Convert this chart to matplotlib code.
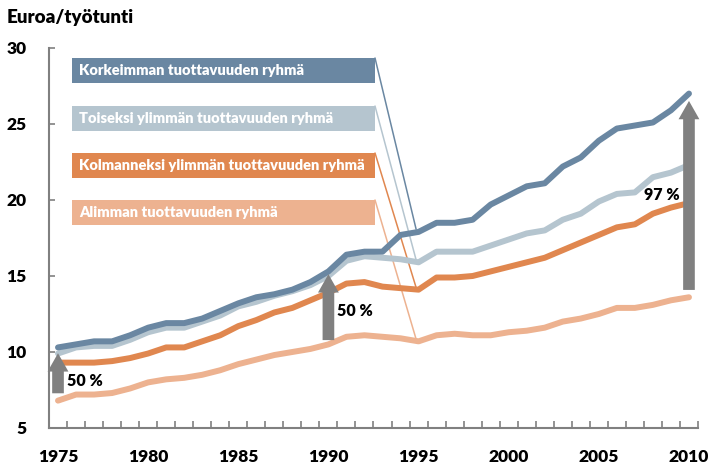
import matplotlib
matplotlib.use("Agg")
import matplotlib.pyplot as plt
from matplotlib.ticker import MultipleLocator

plt.rcParams['font.family'] = ['Lato', 'DejaVu Sans']

years = list(range(1975, 2011))

# Euroa / työtunti, luettu kuvasta
korkein = [10.3, 10.5, 10.7, 10.7, 11.1, 11.6, 11.9, 11.9, 12.2, 12.7,
           13.2, 13.6, 13.8, 14.1, 14.6, 15.3, 16.4, 16.6, 16.6, 17.7,
           17.9, 18.5, 18.5, 18.7, 19.7, 20.3, 20.9, 21.1, 22.2, 22.8,
           23.9, 24.7, 24.9, 25.1, 25.9, 27.0]
toinen = [9.9, 10.3, 10.4, 10.4, 10.8, 11.3, 11.6, 11.6, 12.0, 12.4,
          13.0, 13.3, 13.7, 14.0, 14.4, 15.0, 16.0, 16.3, 16.2, 16.1,
          15.9, 16.6, 16.6, 16.6, 17.0, 17.4, 17.8, 18.0, 18.7, 19.1,
          19.9, 20.4, 20.5, 21.5, 21.8, 22.3]
kolmas = [9.3, 9.3, 9.3, 9.4, 9.6, 9.9, 10.3, 10.3, 10.7, 11.1,
          11.7, 12.1, 12.6, 12.9, 13.4, 13.9, 14.5, 14.6, 14.3, 14.2,
          14.1, 14.9, 14.9, 15.0, 15.3, 15.6, 15.9, 16.2, 16.7, 17.2,
          17.7, 18.2, 18.4, 19.1, 19.5, 19.8]
alin = [6.8, 7.2, 7.2, 7.3, 7.6, 8.0, 8.2, 8.3, 8.5, 8.8,
        9.2, 9.5, 9.8, 10.0, 10.2, 10.5, 11.0, 11.1, 11.0, 10.9,
        10.7, 11.1, 11.2, 11.1, 11.1, 11.3, 11.4, 11.6, 12.0, 12.2,
        12.5, 12.9, 12.9, 13.1, 13.4, 13.6]

nimet = ["Korkeimman tuottavuuden ryhmä",
         "Toiseksi ylimmän tuottavuuden ryhmä",
         "Kolmanneksi ylimmän tuottavuuden ryhmä",
         "Alimman tuottavuuden ryhmä"]
varit = ["#6A87A2", "#B5C5CF", "#E0874F", "#EDB290"]

# nuolet: (vuosi, alku, loppu, teksti)
nuolet = [(1975, 7.1, 10.1, "50 %"),
          (1990, 10.6, 15.3, "50 %"),
          (2010, 13.9, 26.7, "97 %")]

fig = plt.figure(figsize=(7.11, 4.65), dpi=100)
ax = fig.add_axes([0.0689, 0.0796, 0.9128, 0.8172])

sarjat = [korkein, toinen, kolmas, alin]
# piirretään alin ensin, ylin päällimmäiseksi
for arvot, vari in reversed(list(zip(sarjat, varit))):
    ax.plot(years, arvot, color=vari, lw=4.3, solid_capstyle='round',
            solid_joinstyle='round', zorder=3)

for vuosi, y0, y1, teksti in nuolet:
    ax.annotate("", xy=(vuosi, y1), xytext=(vuosi, y0),
                arrowprops=dict(arrowstyle="simple,head_length=1.1,head_width=1.25,tail_width=0.7",
                                color="#808080", lw=0, mutation_scale=12),
                zorder=4)

ax.text(1975.5, 8.1, nuolet[0][3], fontsize=11.5, fontweight='heavy', va='center', ha='left', zorder=5)
ax.text(1990.5, 12.7, nuolet[1][3], fontsize=11.5, fontweight='heavy', va='center', ha='left', zorder=5)
ax.text(2009.5, 20.3, nuolet[2][3], fontsize=11.5, fontweight='heavy', va='center', ha='right', zorder=5)

# selitelaatikot viivoineen
laatikko_y = [58, 106, 153, 200]
for nimi, vari, arvot, ytop in zip(nimet, varit, sarjat, laatikko_y):
    x0, x1 = 72 / 711, 375 / 711
    h = 25 / 465
    yt = 1 - ytop / 465
    fig.patches.append(plt.Rectangle((x0, yt - h), x1 - x0, h, transform=fig.transFigure,
                                     facecolor=vari, edgecolor='none', zorder=5))
    fig.text(x0 + 7 / 711, yt - h / 2, nimi, color='white', fontsize=10.5, fontweight='heavy',
             va='center', ha='left', zorder=6)
    ax.annotate("", xy=(1994.9, arvot[20]), xycoords='data',
                xytext=(x1, yt), textcoords='figure fraction',
                arrowprops=dict(arrowstyle='-', color=vari, lw=1.1, shrinkA=0, shrinkB=2),
                zorder=2)

ax.set_xlim(1974.5, 2010.5)
ax.set_ylim(5, 30)
ax.set_xticks([1975, 1980, 1985, 1990, 1995, 2000, 2005, 2010])
ax.xaxis.set_minor_locator(MultipleLocator(1, offset=0.5))
ax.tick_params(axis='x', which='major', length=0, pad=15, labelsize=12.5)
ax.tick_params(axis='x', which='minor', direction='in', length=5, width=1.2, color='#808080')
ax.yaxis.set_major_locator(MultipleLocator(5))
ax.tick_params(axis='y', direction='in', length=4, width=1.2, color='#808080', pad=16, labelsize=12.5)
for lab in ax.get_xticklabels() + ax.get_yticklabels():
    lab.set_fontweight('heavy')

for s in ['top', 'right']:
    ax.spines[s].set_visible(False)
for s in ['left', 'bottom']:
    ax.spines[s].set_color('#808080')
    ax.spines[s].set_linewidth(1.5)

fig.text(7 / 711, 1 - 17 / 465, "Euroa/työtunti", fontsize=13.5, fontweight='heavy',
         va='center', ha='left')

fig.savefig("out.png", dpi=100)
